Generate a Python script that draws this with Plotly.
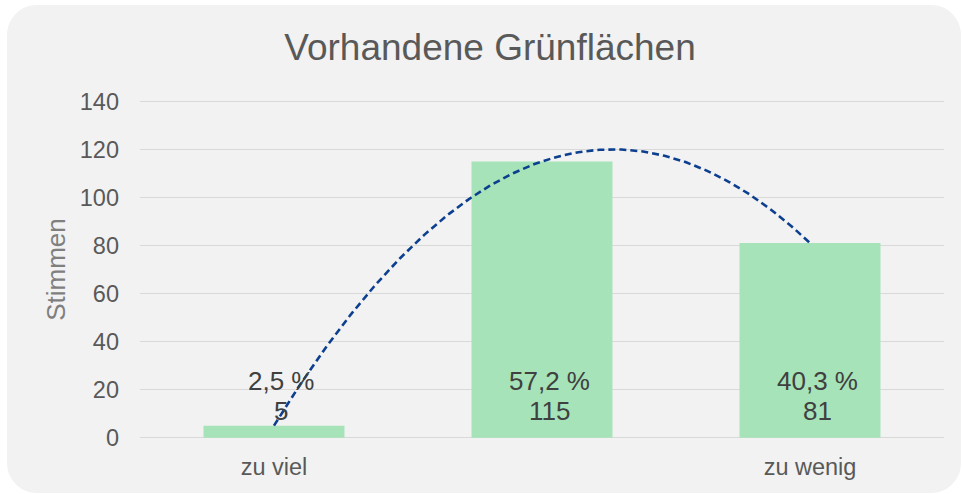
import numpy as np
import plotly.graph_objects as go

# --- data -------------------------------------------------------------
categories = ["zu viel", "", "zu wenig"]
votes = [5, 115, 81]
y_ticks = [0, 20, 40, 60, 80, 100, 120, 140]
title_text = "Vorhandene Grünflächen"
y_title = "Stimmen"

# --- figure geometry (pixels) -------------------------------------------
W, H = 963, 494
ML, MR, MT, MB = 140, 19, 101, 56
PW, PH = W - ML - MR, H - MT - MB

FONT = "Arial, Liberation Sans, sans-serif"
BAR_COLOR = "#a6e3b8"
TREND_COLOR = "#0d3f8f"
GRID_COLOR = "#d9d9d9"
CARD_COLOR = "#f2f2f2"

x_idx = np.arange(len(votes))
total = sum(votes)
shares = [v / total * 100 for v in votes]


def fmt_pct(p):
    return f"{p:.1f}".replace(".", ",") + " %"


# quadratic trend line through the vote counts
coef = np.polyfit(x_idx, votes, 2)
xs = np.linspace(x_idx[0], x_idx[-1], 200)
ys = np.polyval(coef, xs)


def px_to_paper(px, py):
    return (px - ML) / PW, (H - MB - py) / PH


def rounded_card(x0, y0, x1, y1, r):
    k = 0.5523 * r

    def P(px, py):
        a, b = px_to_paper(px, py)
        return f"{a:.5f},{b:.5f}"

    d = f"M {P(x0 + r, y0)} L {P(x1 - r, y0)} "
    d += f"C {P(x1 - r + k, y0)} {P(x1, y0 + r - k)} {P(x1, y0 + r)} "
    d += f"L {P(x1, y1 - r)} "
    d += f"C {P(x1, y1 - r + k)} {P(x1 - r + k, y1)} {P(x1 - r, y1)} "
    d += f"L {P(x0 + r, y1)} "
    d += f"C {P(x0 + r - k, y1)} {P(x0, y1 - r + k)} {P(x0, y1 - r)} "
    d += f"L {P(x0, y0 + r)} "
    d += f"C {P(x0, y0 + r - k)} {P(x0 + r - k, y0)} {P(x0 + r, y0)} Z"
    return d


fig = go.Figure()

fig.add_trace(go.Bar(
    x=x_idx, y=votes,
    marker=dict(color=BAR_COLOR, line=dict(width=0)),
    hoverinfo="skip",
))

fig.add_trace(go.Scatter(
    x=xs, y=ys, mode="lines",
    line=dict(color=TREND_COLOR, width=2.6, dash="7px,4px"),
    hoverinfo="skip",
))

# value labels at the base of each bar: share on top, count below
annotations = []
for i, (v, p) in enumerate(zip(votes, shares)):
    for txt, shift in ((fmt_pct(p), 57), (str(v), 27)):
        annotations.append(dict(
            x=i, y=0, xref="x", yref="y", text=txt, showarrow=False,
            xanchor="center", yanchor="middle", xshift=7, yshift=shift,
            font=dict(family=FONT, size=26, color="#404040"),
        ))

shapes = [dict(
    type="path", xref="paper", yref="paper", layer="below",
    path=rounded_card(7, 5, 961, 493, 30),
    fillcolor=CARD_COLOR, line=dict(width=0),
)]
# gridline along the top of the value range
shapes.append(dict(
    type="line", xref="paper", yref="y", layer="below",
    x0=0, x1=1, y0=y_ticks[-1], y1=y_ticks[-1],
    line=dict(color=GRID_COLOR, width=1.4),
))

fig.update_layout(
    width=W, height=H,
    margin=dict(l=ML, r=MR, t=MT, b=MB, pad=0),
    paper_bgcolor="white",
    plot_bgcolor="rgba(0,0,0,0)",
    showlegend=False,
    bargap=0.474,
    title=dict(
        text=title_text, x=(490 - ML) / PW, xanchor="center", xref="paper",
        y=1 - 47 / H, yanchor="middle",
        font=dict(family=FONT, size=37, color="#595959"),
    ),
    shapes=shapes,
    annotations=annotations,
    xaxis=dict(
        range=[-0.5, len(votes) - 0.5],
        tickmode="array", tickvals=list(x_idx), ticktext=categories,
        showgrid=False, zeroline=False, showline=False, ticks="",
        ticklabelstandoff=12,
        tickfont=dict(family=FONT, size=23.5, color="#595959"),
        fixedrange=True,
    ),
    yaxis=dict(
        range=[-0.15, 140.15],
        tickmode="array", tickvals=y_ticks,
        showgrid=True, gridcolor=GRID_COLOR, gridwidth=1.4,
        zeroline=True, zerolinecolor=GRID_COLOR, zerolinewidth=1.4,
        showline=False, ticks="",
        ticklabelstandoff=20,
        tickfont=dict(family=FONT, size=23.5, color="#595959"),
        title=dict(text=y_title, standoff=6,
                   font=dict(family=FONT, size=26, color="#7f7f7f")),
        fixedrange=True,
    ),
)

fig.write_html("out.html", config={"displayModeBar": False})
